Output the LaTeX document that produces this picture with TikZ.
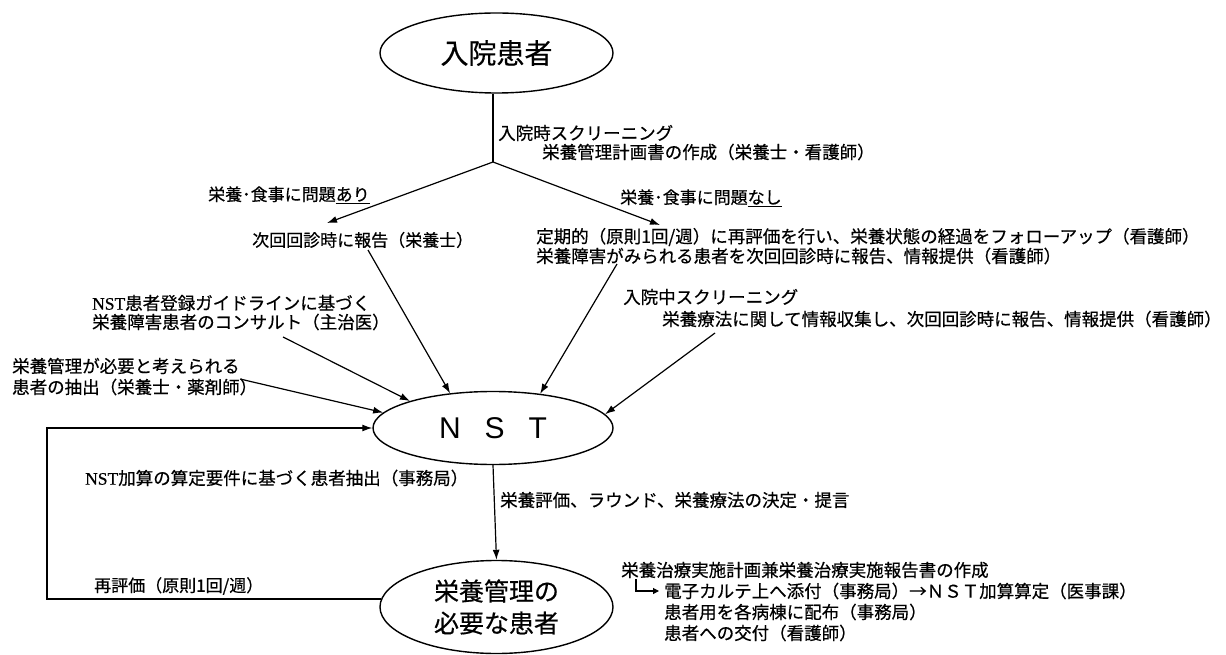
\documentclass[tikz,border=0pt]{standalone}
\usepackage{fontspec}
\setmainfont{Noto Sans CJK JP}[FakeBold=0.5]
\newfontfamily\serifnst{Liberation Serif}[FakeBold=0.5]
\newfontfamily\sansnst{Liberation Sans}
\usetikzlibrary{shapes.geometric,arrows.meta}
\begin{document}
\begin{tikzpicture}[x=1pt,y=-1pt,
  oval/.style={draw,line width=1.4pt,ellipse,inner sep=0pt,align=center},
  lbl/.style={anchor=west,inner sep=0pt,font=\fontsize{17.5pt}{19pt}\selectfont},
  lbls/.style={anchor=west,inner sep=0pt,font=\fontsize{17pt}{18pt}\selectfont},
  ln/.style={line width=1.2pt},
  arr/.style={line width=1.2pt,-{Latex[length=10pt,width=7pt]}}]
\useasboundingbox (0,0) rectangle (1226,655);

% ellipses
\node[oval,minimum width=233pt,minimum height=80pt,font=\fontsize{28pt}{30pt}\selectfont] (adm) at (496.5,53) {入院患者};
\node[oval,minimum width=240pt,minimum height=73pt,font=\sansnst\fontsize{30pt}{32pt}\selectfont] (nst) at (493,428) {N\hspace{24pt}S\hspace{24pt}T};
\node[oval,minimum width=233pt,minimum height=93pt,font=\fontsize{25pt}{32pt}\selectfont] (bot) at (496.5,607) {栄養管理の\\必要な患者};

% labels
\node[lbl] (t1) at (498,133) {入院時スクリーニング};
\node[lbl] (t2) at (542,152) {栄養管理計画書の作成（栄養士・看護師）};
\node[lbls] (ari) at (208,195) {栄養･食事に問題\underline{あり}};
\node[lbls] (nashi) at (620,198) {栄養･食事に問題\underline{なし}};
\node[lbls] (jikai) at (252,240) {次回回診時に報告（栄養士）};
\node[lbl] (teiki1) at (536,237) {定期的（原則1回/週）に再評価を行い、栄養状態の経過をフォローアップ（看護師）};
\node[lbl] (teiki2) at (536,256) {栄養障害がみられる患者を次回回診時に報告、情報提供（看護師）};
\node[lbl] (nchu) at (623,297) {入院中スクリーニング};
\node[lbl] (ryoho) at (662,319) {栄養療法に関して情報収集し、次回回診時に報告、情報提供（看護師）};
\node[lbl] (reg1) at (92,303) {{\serifnst NST}患者登録ガイドラインに基づく};
\node[lbl] (reg2) at (92,322) {栄養障害患者のコンサルト（主治医）};
\node[lbl] (ext1) at (12,366) {栄養管理が必要と考えられる};
\node[lbl] (ext2) at (12,387) {患者の抽出（栄養士・薬剤師）};
\node[lbl] (kasan) at (85,478) {{\serifnst NST}加算の算定要件に基づく患者抽出（事務局）};
\node[lbl] (hyoka) at (500,500) {栄養評価、ラウンド、栄養療法の決定・提言};
\node[lbls] (saihyoka) at (94,586) {再評価（原則1回/週）};
\node[lbl] (r1) at (621,570) {栄養治療実施計画兼栄養治療実施報告書の作成};
\node[lbl] (r2) at (664,591) {電子カルテ上へ添付（事務局）→ＮＳＴ加算算定（医事課）};
\node[lbl] (r3) at (664,612) {患者用を各病棟に配布（事務局）};
\node[lbl] (r4) at (664,633) {患者への交付（看護師）};

% coordinates
\coordinate (jn) at (493,162);
\coordinate (tipL) at (327,223);
\coordinate (tipR) at (660,225);
\coordinate (sJikai) at (368,250);
\coordinate (sTeiki) at (617,264);
\coordinate (sRyoho) at (715,333);
\coordinate (sReg) at (283,337);
\coordinate (sExt) at (240,379);
\coordinate (fbL) at (47,500);
\coordinate (hkA) at (636,579);
\coordinate (hkB) at (659,591);

% connectors
\draw[ln] (jn |- adm.south) -- (jn);
\draw[arr] (jn) -- (tipL);
\draw[arr] (jn) -- (tipR);
\draw[arr] (sJikai) -- (nst.141.7);
\draw[arr] (sTeiki) -- (nst.36.7);
\draw[arr] (sRyoho) -- (nst.7.6);
\draw[arr] (sReg) -- (nst.162);
\draw[arr] (sExt) -- (nst.172.3);
\draw[arr] (nst.south) -- (bot.north);
\draw[arr] (bot.176) -- (bot.176 -| fbL) |- (nst.west);
\draw[line width=1.1pt,-{Triangle[length=6pt,width=6pt]}] (hkA) |- (hkB);
\end{tikzpicture}
\end{document}
